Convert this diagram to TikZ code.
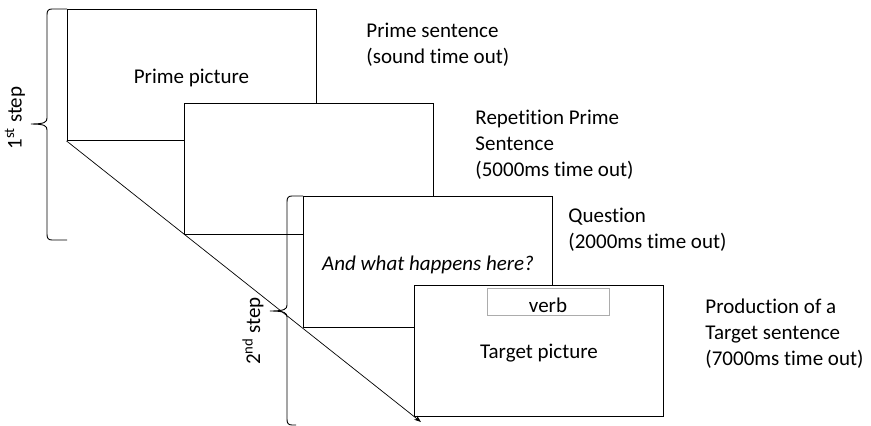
\documentclass[tikz,border=0pt]{standalone}
\usepackage{fontspec}
\setmainfont{Carlito}[Ligatures=CommonOff]
\usetikzlibrary{arrows.meta}
\begin{document}
\begin{tikzpicture}
  [x=1pt,y=-1pt,line width=0.9pt,
   every node/.style={font=\fontsize{21}{26}\selectfont},
   screen/.style={draw,fill=white,minimum width=249pt,minimum height=131pt,inner sep=0,text height=16pt,text depth=0pt},
   timing/.style={anchor=north west,align=left,inner sep=0}]
  \useasboundingbox (0,0) rectangle (871,426);
  % the four screens of a trial
  \node[screen] (prime) at (191.5,75) {Prime picture};
  \node[screen] (repeat) at (308.5,168.5) {};
  \node[screen] (question) at (428,262) {\itshape And what happens here?};
  \node[screen] (target) at (539,350.5) {Target picture};
  \node[draw=gray!65,line width=0.8pt,minimum width=122pt,minimum height=27pt,inner sep=0,text height=21pt,text depth=0pt] (verb) at (548,301.5) {verb};
  \coordinate (end) at (421,422);
  \draw[line width=0.7pt,-{Stealth[length=7pt,width=5pt]}] (prime.south west) -- (end);

  % what happens on each screen
  \node[timing] (t1) at (366,23) {Prime sentence\\(sound time out)};
  \node[timing] (t2) at (475,110) {Repetition Prime\\Sentence\\(5000ms time out)};
  \node[timing] (t3) at (568,208) {Question\\(2000ms time out)};
  \node[timing] (t4) at (705,298) {Production of a\\Target sentence\\(7000ms time out)};

  % steps
  \draw (67,9) -- (52,9) .. controls (48,9) and (47,11) .. (47,15) -- (47,118)
    .. controls (47,122) and (45,124) .. (31,124) .. controls (45,124) and (47,126) .. (47,130)
    -- (47,234) .. controls (47,238) and (48,240) .. (52,240) -- (67,240);
  \draw (303,196) -- (292,196) .. controls (288,196) and (287,198) .. (287,202) -- (287,305)
    .. controls (287,309) and (285,311) .. (270,311) .. controls (285,311) and (287,313) .. (287,317)
    -- (287,419) .. controls (287,423) and (288,425) .. (292,425) -- (296,425);
  \node[rotate=90] (s1) at (15,118) {1\textsuperscript{st} step};
  \node[rotate=90] (s2) at (253,331) {2\textsuperscript{nd} step};
\end{tikzpicture}
\end{document}
